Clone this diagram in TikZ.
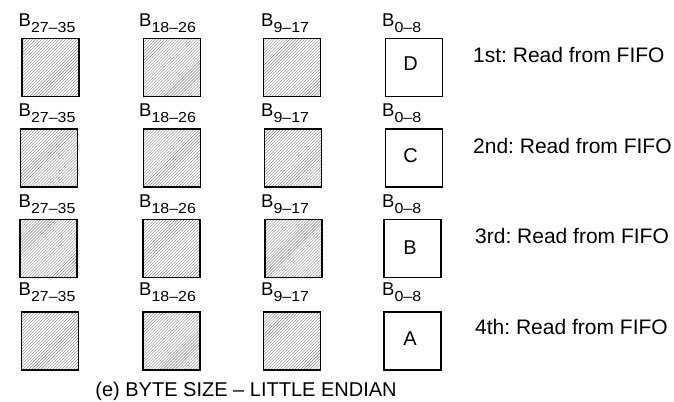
\documentclass[tikz,border=0pt]{standalone}
\usepackage{fontspec}
\usepackage{graphicx}
\setmainfont{Liberation Sans}
\usetikzlibrary{patterns}
\frenchspacing
\newcommand\blab[1]{B\raisebox{-6.5bp}{\fontsize{14.5bp}{15bp}\selectfont\scalebox{1.1}[1]{#1}}}
\tikzset{
  hatchbox/.style={draw, line width=1.8bp, minimum width=57bp, minimum height=58bp, inner sep=0pt,
    pattern=north east lines, pattern color=black!50},
  databox/.style={draw, line width=1.8bp, minimum width=57bp, minimum height=58bp, inner sep=0pt, fill=white},
  blabel/.style={anchor=base west, inner sep=0pt, font=\fontsize{18.5bp}{20bp}\selectfont},
  readtxt/.style={anchor=base west, inner sep=0pt, font=\fontsize{21bp}{24bp}\selectfont},
  letter/.style={anchor=base, inner sep=0pt, font=\fontsize{20bp}{22bp}\selectfont},
  captxt/.style={anchor=base, inner sep=0pt, font=\fontsize{20bp}{22bp}\selectfont},
}
\begin{document}
\begin{tikzpicture}[x=1bp,y=-1bp]
\useasboundingbox (0,0) rectangle (674,401);
% row 1
\node[hatchbox] (r1c1) at (50.5,67.5) {};
\node[hatchbox] (r1c2) at (172,67.5) {};
\node[hatchbox] (r1c3) at (292,67.5) {};
\node[databox]  (r1c4) at (414,67.5) {};
\node[letter] (d) at (410.5,70) {D};
\node[blabel] (l11) at (18.5,26) {\blab{27–35}};
\node[blabel] (l12) at (139,26) {\blab{18–26}};
\node[blabel] (l13) at (261,26) {\blab{9–17}};
\node[blabel] (l14) at (382,26) {\blab{0–8}};
\node[readtxt] (t1) at (473,62) {1st: Read from FIFO};
% row 2
\node[hatchbox] (r2c1) at (49,158) {};
\node[hatchbox] (r2c2) at (172,158) {};
\node[hatchbox] (r2c3) at (293,158) {};
\node[databox]  (r2c4) at (414,158) {};
\node[letter] (c) at (410.5,162) {C};
\node[blabel] (l21) at (18.5,116) {\blab{27–35}};
\node[blabel] (l22) at (139,116) {\blab{18–26}};
\node[blabel] (l23) at (261,116) {\blab{9–17}};
\node[blabel] (l24) at (382,116) {\blab{0–8}};
\node[readtxt] (t2) at (473,153) {2nd: Read from FIFO};
% row 3
\node[hatchbox] (r3c1) at (48.5,248.5) {};
\node[hatchbox] (r3c2) at (171.5,248.5) {};
\node[hatchbox] (r3c3) at (293.5,248.5) {};
\node[databox]  (r3c4) at (412.5,248.5) {};
\node[letter] (b) at (410,254) {B};
\node[blabel] (l31) at (18.5,207) {\blab{27–35}};
\node[blabel] (l32) at (139,207) {\blab{18–26}};
\node[blabel] (l33) at (261,207) {\blab{9–17}};
\node[blabel] (l34) at (382,207) {\blab{0–8}};
\node[readtxt] (t3) at (475,243) {3rd: Read from FIFO};
% row 4
\node[hatchbox] (r4c1) at (50,341) {};
\node[hatchbox] (r4c2) at (171.5,341) {};
\node[hatchbox] (r4c3) at (292,341) {};
\node[databox]  (r4c4) at (412.5,341) {};
\node[letter] (a) at (410,345) {A};
\node[blabel] (l41) at (18.5,295) {\blab{27–35}};
\node[blabel] (l42) at (139,295) {\blab{18–26}};
\node[blabel] (l43) at (261,295) {\blab{9–17}};
\node[blabel] (l44) at (382,295) {\blab{0–8}};
\node[readtxt] (t4) at (475,334) {4th: Read from FIFO};
% caption
\node[captxt] (cap) at (246,396) {(e) BYTE SIZE – LITTLE ENDIAN};
\end{tikzpicture}
\end{document}
